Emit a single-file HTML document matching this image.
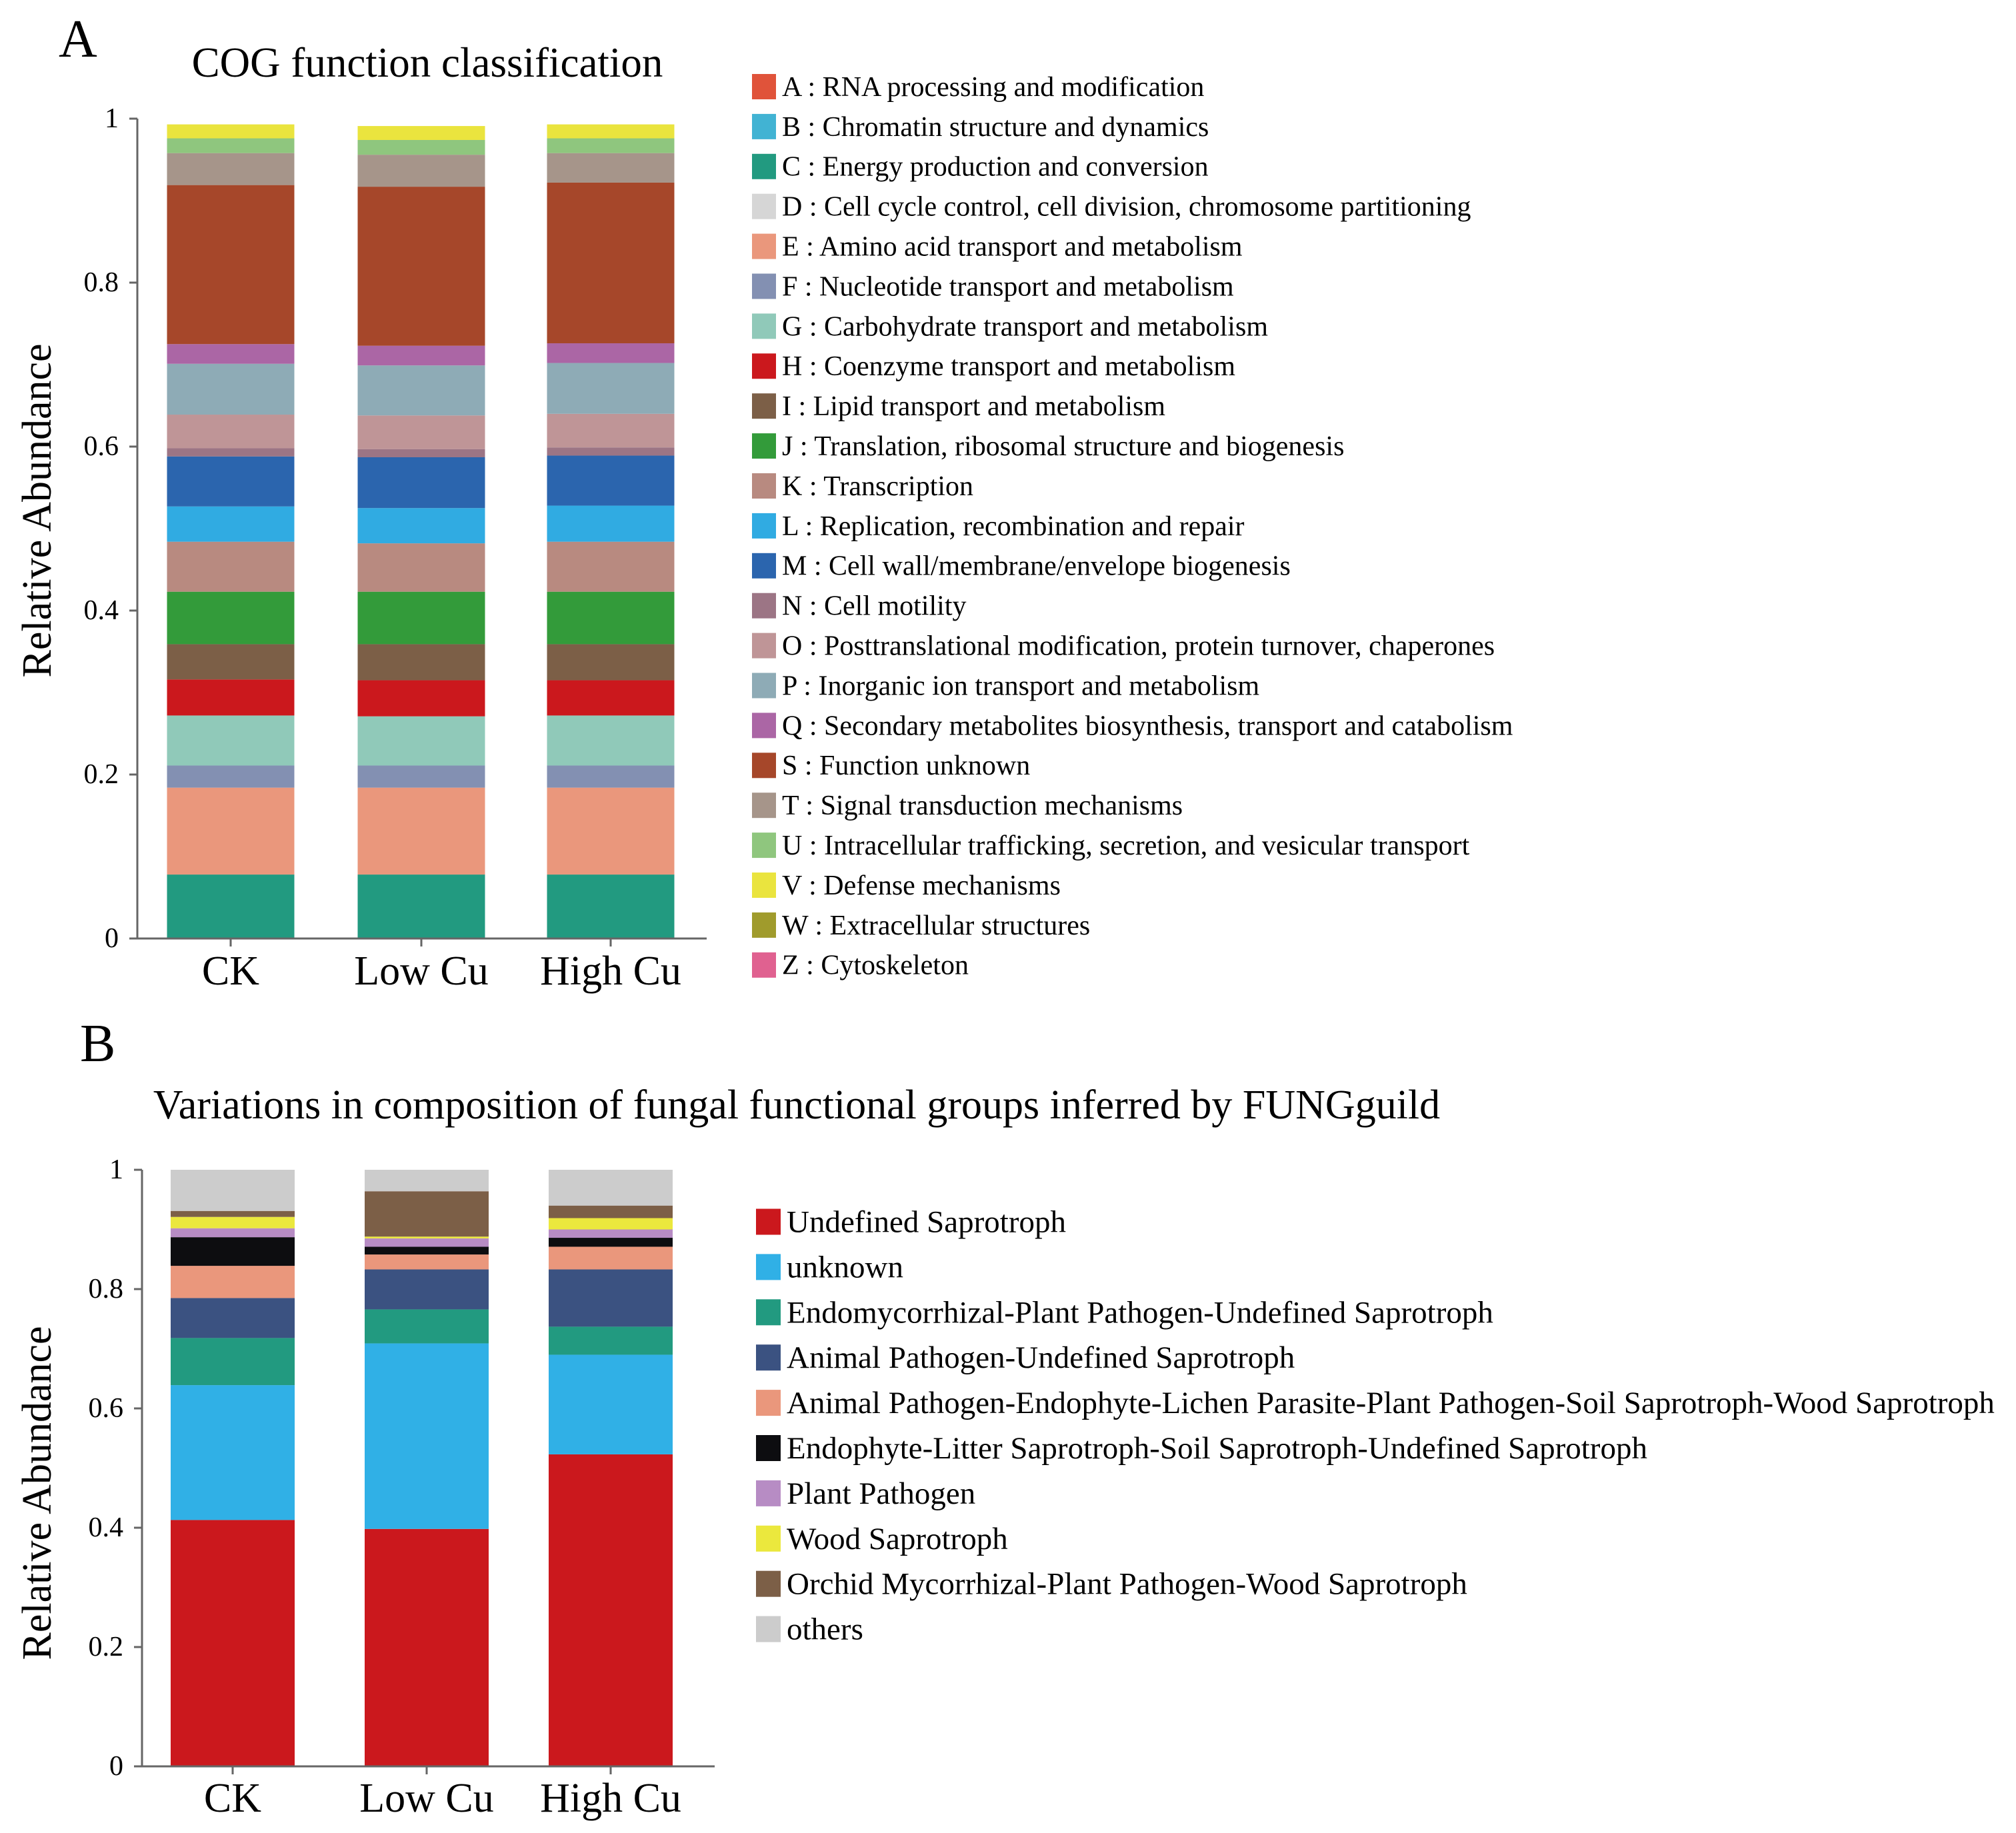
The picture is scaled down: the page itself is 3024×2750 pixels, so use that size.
<!DOCTYPE html>
<html><head><meta charset="utf-8"><style>
html,body{margin:0;padding:0;background:#fff;}
svg{display:block;font-family:"Liberation Serif",serif;}
</style></head><body>
<svg id="fig" width="3024" height="2750" viewBox="0 0 3024 2750" xmlns="http://www.w3.org/2000/svg">
<text x="88" y="85" font-size="80">A</text>
<text x="641" y="115" font-size="63" text-anchor="middle">COG function classification</text>
<text x="120" y="1592" font-size="80">B</text>
<text x="1195" y="1678" font-size="62" text-anchor="middle">Variations in composition of fungal functional groups inferred by FUNGguild</text>
<g id="chartA"></g>
<g id="chartB"></g>
</svg>
<script>
const samples = ["CK","Low Cu","High Cu"];
const yTicks = [0,0.2,0.4,0.6,0.8,1];
const yTickLabels = ["0","0.2","0.4","0.6","0.8","1"];
const cogLabels = ["A : RNA processing and modification","B : Chromatin structure and dynamics","C : Energy production and conversion","D : Cell cycle control, cell division, chromosome partitioning","E : Amino acid transport and metabolism","F : Nucleotide transport and metabolism","G : Carbohydrate transport and metabolism","H : Coenzyme transport and metabolism","I : Lipid transport and metabolism","J : Translation, ribosomal structure and biogenesis","K : Transcription","L : Replication, recombination and repair","M : Cell wall/membrane/envelope biogenesis","N : Cell motility","O : Posttranslational modification, protein turnover, chaperones","P : Inorganic ion transport and metabolism","Q : Secondary metabolites biosynthesis, transport and catabolism","S : Function unknown","T : Signal transduction mechanisms","U : Intracellular trafficking, secretion, and vesicular transport","V : Defense mechanisms","W : Extracellular structures","Z : Cytoskeleton"];
const cogColors = ["#e0533a","#41b3d3","#229a80","#d6d6d6","#ea977c","#8390b2","#90c9b9","#cb181d","#7c5f47","#339b3a","#b88a80","#30abe2","#2b65ae","#9c7585","#bf9597","#8eabb6","#ab66a5","#a6472a","#a6958a","#8fc67e","#eae43e","#a09b2c","#e06190"];
// values per COG category (order as legend) for CK, Low Cu, High Cu
const cogCK   = [0,0,0.078,0,0.106,0.027,0.061,0.044,0.043,0.064,0.061,0.043,0.061,0.010,0.041,0.062,0.024,0.194,0.039,0.018,0.017,0,0];
const cogLow  = [0,0,0.078,0,0.106,0.027,0.060,0.044,0.044,0.064,0.059,0.043,0.062,0.010,0.041,0.061,0.024,0.194,0.039,0.018,0.017,0,0];
const cogHigh = [0,0,0.078,0,0.106,0.027,0.061,0.043,0.044,0.064,0.061,0.044,0.061,0.010,0.041,0.062,0.024,0.196,0.036,0.018,0.017,0,0];
const funLabels = ["Undefined Saprotroph","unknown","Endomycorrhizal-Plant Pathogen-Undefined Saprotroph","Animal Pathogen-Undefined Saprotroph","Animal Pathogen-Endophyte-Lichen Parasite-Plant Pathogen-Soil Saprotroph-Wood Saprotroph","Endophyte-Litter Saprotroph-Soil Saprotroph-Undefined Saprotroph","Plant Pathogen","Wood Saprotroph","Orchid Mycorrhizal-Plant Pathogen-Wood Saprotroph","others"];
const funColors = ["#cb181d","#30b0e6","#229a80","#3b5281","#ea977c","#0d0d10","#b78cc4","#ebe83d","#7c5f47","#cccccc"];
const funCK   = [0.413,0.226,0.079,0.067,0.054,0.048,0.015,0.019,0.010,0.069];
const funLow  = [0.398,0.311,0.057,0.067,0.025,0.013,0.014,0.003,0.076,0.036];
const funHigh = [0.523,0.167,0.047,0.096,0.038,0.015,0.014,0.019,0.021,0.060];

const NS="http://www.w3.org/2000/svg";
function mk(tag,attrs,parent){const e=document.createElementNS(NS,tag);for(const k in attrs)e.setAttribute(k,attrs[k]);parent.appendChild(e);return e;}

function drawChart(g, cfg, series, colors, labels, prefix){
  const y = v => cfg.y0 - v*(cfg.y0-cfg.y1);
  const xc = i => cfg.centers[i];
  series.forEach((vals,si)=>{
    let acc=0;
    vals.forEach((v,ci)=>{
      if(v<=0){return;}
      const r=mk('rect',{x:xc(si)-cfg.bw/2,y:y(acc+v),width:cfg.bw,height:y(acc)-y(acc+v),fill:colors[ci]},g);
      
      
      acc+=v;
    });
  });
  const ax=mk('line',{x1:cfg.ax,y1:y(1),x2:cfg.ax,y2:cfg.y0,stroke:"#666","stroke-width":3},g);
  
  
  const bx=mk('line',{x1:cfg.ax,y1:cfg.y0,x2:cfg.axEnd,y2:cfg.y0,stroke:"#666","stroke-width":3},g);
  
  
  yTicks.forEach((t,i)=>{
    mk('line',{x1:cfg.ax-12,y1:y(t),x2:cfg.ax,y2:y(t),stroke:"#666","stroke-width":3},g);
    const tx=mk('text',{x:cfg.ax-28,y:y(t)+13,"font-size":42,"text-anchor":"end"},g);
    tx.textContent=yTickLabels[i];
    
    
  });
  samples.forEach((s,i)=>{
    mk('line',{x1:xc(i),y1:cfg.y0,x2:xc(i),y2:cfg.y0+12,stroke:"#666","stroke-width":3},g);
    const tx=mk('text',{x:xc(i),y:cfg.catY+22,"font-size":62,"text-anchor":"middle"},g);
    tx.textContent=s;
    
    
  });
  const yt=mk('text',{x:0,y:0,"font-size":62,"text-anchor":"middle",transform:`translate(${cfg.ytx},${cfg.ytc}) rotate(-90)`},g);
  yt.textContent="Relative Abundance";
  
  
  labels.forEach((l,i)=>{
    const cy=cfg.lg.y+i*cfg.lg.dy;
    const sw=mk('rect',{x:cfg.lg.x,y:cy-cfg.lg.sh/2,width:cfg.lg.sw,height:cfg.lg.sh,fill:colors[i]},g);
    
    
    const tx=mk('text',{x:cfg.lg.x+cfg.lg.sw+9,y:cy+cfg.lg.fs*0.33,"font-size":cfg.lg.fs},g);
    tx.textContent=l;
    
    
  });
}
drawChart(document.getElementById('chartA'),
  {y0:1408,y1:178,ax:206,axEnd:1060,centers:[346,632,916],bw:191,ytx:76,ytc:766,catY:1455,
   lg:{x:1128,y:130,dy:59.9,sw:36,sh:38,fs:42}},
  [cogCK,cogLow,cogHigh],cogColors,cogLabels,'cog');
drawChart(document.getElementById('chartB'),
  {y0:2650,y1:1755,ax:213,axEnd:1072,centers:[349,640,916],bw:186,ytx:76,ytc:2240,catY:2696,
   lg:{x:1134,y:1833,dy:67.9,sw:37,sh:39,fs:47}},
  [funCK,funLow,funHigh],funColors,funLabels,'fungi');
</script>
</body></html>
